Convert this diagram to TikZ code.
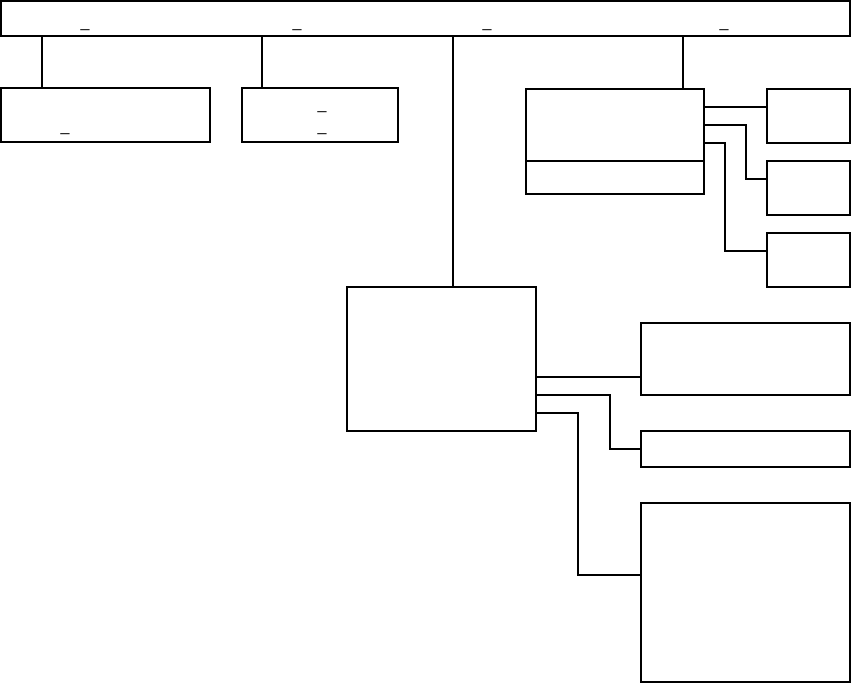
\documentclass[tikz,border=0pt]{standalone}
\usepackage{fontspec}
\newfontfamily\barfont{Liberation Sans}
\begin{document}
\begin{tikzpicture}[x=1pt,y=-1pt,
  blk/.style={draw,line width=\boxlw,rectangle,inner sep=0pt,outer sep=0pt,anchor=north west},
  wire/.style={line width=\boxlw},
  gap/.style={inner sep=0pt,font=\barfont\fontsize{16}{16}\selectfont}]%
\ifx\boxlw\undefined\newdimen\boxlw\fi
\boxlw=1.6bp
\useasboundingbox (0,0) rectangle (852,684);
% boxes
\node[blk,minimum width=849pt,minimum height=35pt] (top) at (1,1) {};
\node[blk,minimum width=209pt,minimum height=54pt] (a) at (1,88) {};
\node[blk,minimum width=156pt,minimum height=54pt] (b) at (242,88) {};
\node[blk,minimum width=178pt,minimum height=72pt] (cmain) at (526,89) {};
\node[blk,minimum width=178pt,minimum height=33pt] (cfoot) at (526,161) {};
\node[blk,minimum width=83pt,minimum height=54pt] (ra) at (767,89) {};
\node[blk,minimum width=83pt,minimum height=54pt] (rb) at (767,161) {};
\node[blk,minimum width=83pt,minimum height=54pt] (rc) at (767,233) {};
\node[blk,minimum width=189pt,minimum height=144pt] (d) at (347,287) {};
\node[blk,minimum width=209pt,minimum height=72pt] (e) at (641,323) {};
\node[blk,minimum width=209pt,minimum height=36pt] (f) at (641,431) {};
\node[blk,minimum width=209pt,minimum height=179pt] (g) at (641,503) {};
% texts
\node[gap] (topu1) at (85,29) {\_};
\node[gap] (topu2) at (297,29) {\_};
\node[gap] (topu3) at (487,29) {\_};
\node[gap] (topu4) at (724,29) {\_};
\node[gap] (au) at (65,133) {\_};
\node[gap] (bu1) at (322,111) {\_};
\node[gap] (bu2) at (322,133) {\_};
% top bar links
\draw[wire] (top.south -| 42,0) -- (a.north -| 42,0);
\draw[wire] (top.south -| 262,0) -- (b.north -| 262,0);
\draw[wire] (top.south -| 453,0) -- (d.north -| 453,0);
\draw[wire] (top.south -| 683,0) -- (cmain.north -| 683,0);
% right of c
\draw[wire] (cmain.east |- 0,107) -- (ra.west |- 0,107);
\draw[wire] (cmain.east |- 0,125) -- ++(42,0) |- (rb.west |- 0,179);
\draw[wire] (cmain.east |- 0,143) -- ++(21,0) |- (rc.west |- 0,251);
% right of d
\draw[wire] (d.east |- 0,377) -- (e.west |- 0,377);
\draw[wire] (d.east |- 0,395) -- ++(74,0) |- (f.west);
\draw[wire] (d.east |- 0,413) -- ++(42,0) |- (g.west |- 0,575);
\end{tikzpicture}
\end{document}
